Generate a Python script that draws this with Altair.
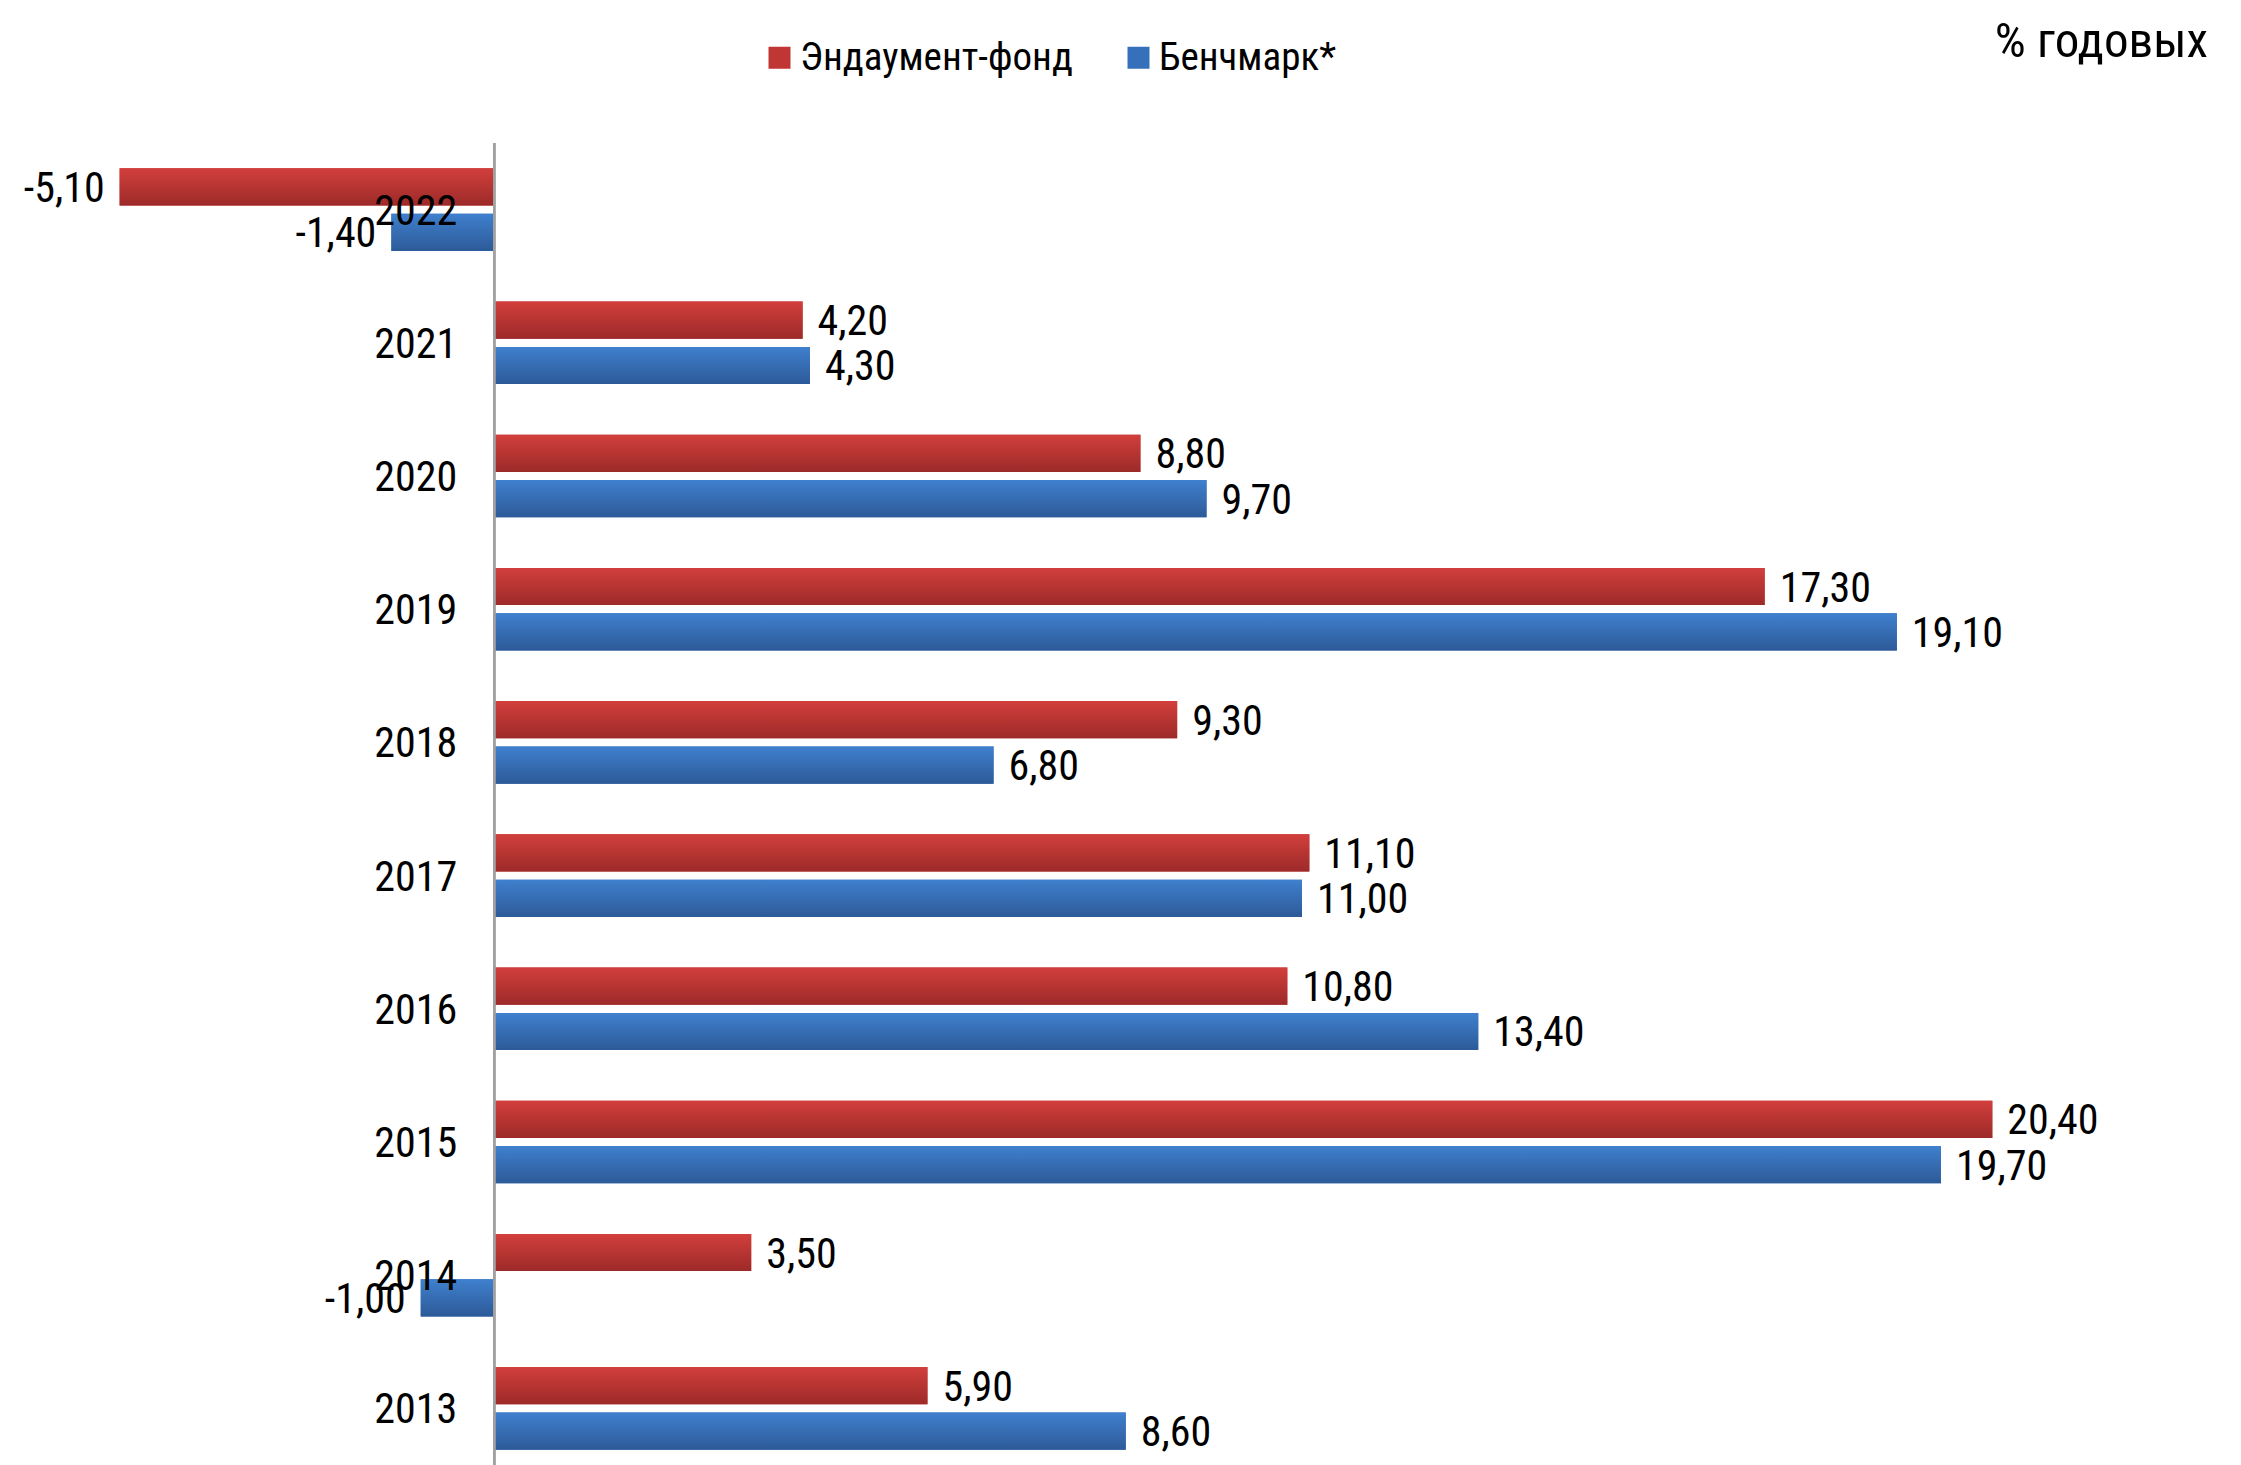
import altair as alt
import pandas as pd

years = ["2022", "2021", "2020", "2019", "2018", "2017", "2016", "2015", "2014", "2013"]
fund = [-5.10, 4.20, 8.80, 17.30, 9.30, 11.10, 10.80, 20.40, 3.50, 5.90]
bench = [-1.40, 4.30, 9.70, 19.10, 6.80, 11.00, 13.40, 19.70, -1.00, 8.60]
series_names = ["Эндаумент-фонд", "Бенчмарк*"]
unit_label = "% годовых"

rows = []
for y, f, b in zip(years, fund, bench):
    for s, v in zip(series_names, (f, b)):
        rows.append({"year": y, "series": s, "value": v, "zero": 0.0,
                     "label": f"{v:.2f}".replace(".", ",")})
df = pd.DataFrame(rows)
years_df = pd.DataFrame({"year": years, "zero": [0.0] * len(years)})

FONT = ("Liberation Sans Narrow, Arial Narrow, Roboto Condensed, Noto Sans Condensed, "
        "DejaVu Sans Condensed, Liberation Sans, sans-serif")
W, H = 2212, 1332

xscale = alt.Scale(domain=[-6.62, 23.5], nice=False, zero=False)
yenc = alt.Y("year:N", sort=years, axis=None,
             scale=alt.Scale(paddingInner=0.38, paddingOuter=0.19))
yoff = alt.YOffset("series:N", sort=series_names,
                   scale=alt.Scale(paddingInner=0.18))
xenc = alt.X("value:Q", scale=xscale, axis=None, stack=None)

red_grad = alt.Gradient(gradient="linear", x1=0, y1=0, x2=0, y2=1,
                        stops=[alt.GradientStop(color="#D23F3C", offset=0),
                               alt.GradientStop(color="#9C2A29", offset=1)])
blue_grad = alt.Gradient(gradient="linear", x1=0, y1=0, x2=0, y2=1,
                         stops=[alt.GradientStop(color="#3F80CE", offset=0),
                                alt.GradientStop(color="#2D5A98", offset=1)])

base = alt.Chart(df).encode(y=yenc, yOffset=yoff)

legend_bars = base.mark_bar().encode(
    x=xenc, x2="zero:Q",
    color=alt.Color("series:N", sort=series_names,
                    scale=alt.Scale(domain=series_names, range=["#C03634", "#3670BA"]),
                    legend=alt.Legend(title=None, orient="none", direction="horizontal",
                                      legendX=752, legendY=-105,
                                      symbolType="square", symbolSize=484,
                                      symbolStrokeWidth=0,
                                      labelFont=FONT, labelFontSize=39,
                                      labelLimit=1000,
                                      labelColor="#000000", labelOffset=1,
                                      columnPadding=46)),
)

red_bars = base.transform_filter(alt.datum.series == series_names[0]).mark_bar(
    color=red_grad).encode(x=xenc, x2="zero:Q")
blue_bars = base.transform_filter(alt.datum.series == series_names[1]).mark_bar(
    color=blue_grad).encode(x=xenc, x2="zero:Q")

pos_labels = base.transform_filter(alt.datum.value >= 0).mark_text(
    align="left", baseline="middle", dx=15, dy=2, font=FONT, fontSize=42, color="#000000"
).encode(x=xenc, text="label:N")

neg_labels = base.transform_filter(alt.datum.value < 0).mark_text(
    align="right", baseline="middle", dx=-15, dy=2, font=FONT, fontSize=42, color="#000000"
).encode(x=xenc, text="label:N")

zero_rule = alt.Chart(years_df).mark_rule(color="#A0A0A0", strokeWidth=2).encode(
    x=alt.X("zero:Q", scale=xscale, axis=None))

year_labels = alt.Chart(years_df).mark_text(
    align="right", baseline="middle", dx=-37, dy=2, font=FONT, fontSize=42, color="#000000"
).encode(y=yenc, x=alt.X("zero:Q", scale=xscale, axis=None), text="year:N")

unit_text = alt.Chart(pd.DataFrame({"t": [unit_label]})).mark_text(
    align="right", baseline="alphabetic", font=FONT, fontSize=49, color="#000000"
).encode(x=alt.value(W - 12), y=alt.value(-86), text="t:N")

chart = alt.layer(
    legend_bars, red_bars, blue_bars, zero_rule, pos_labels, neg_labels,
    year_labels, unit_text
).properties(
    width=W, height=H,
    background="#FFFFFF",
    autosize=alt.AutoSizeParams(type="none"),
    padding={"left": 0, "top": 135, "right": 0, "bottom": 0},
).configure_view(stroke=None)

chart.save("out.html", embed_options={"renderer": "svg", "actions": False})
